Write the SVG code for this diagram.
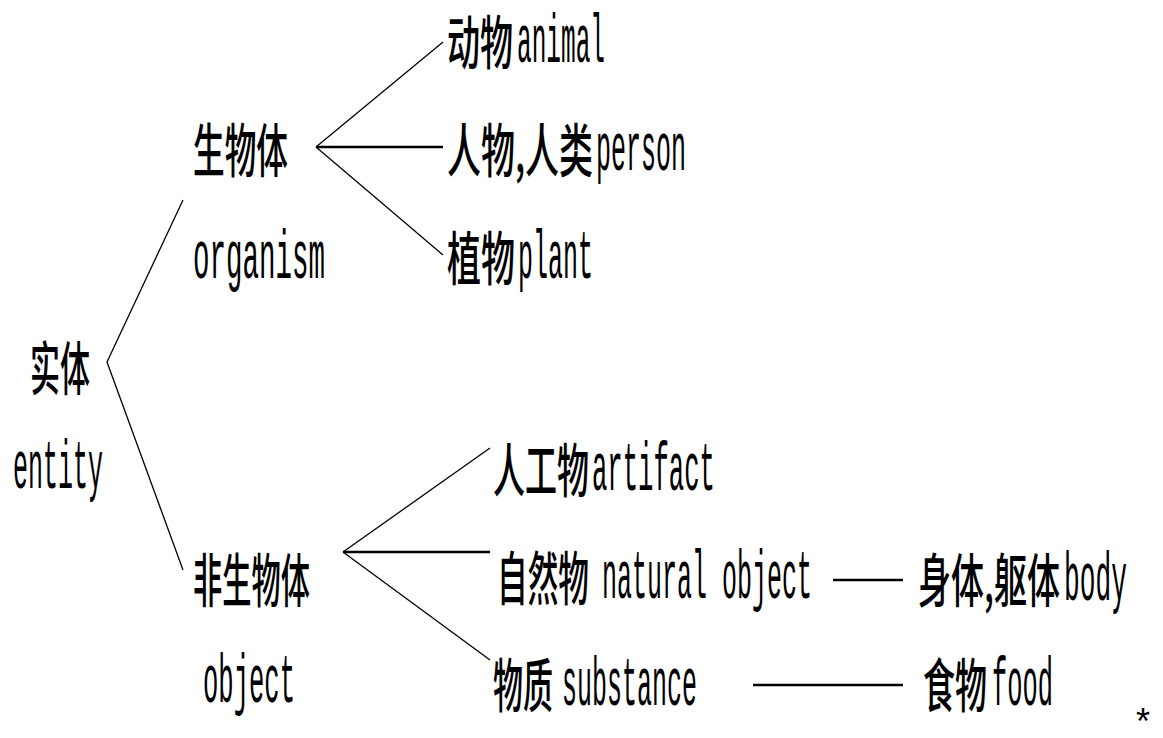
<svg xmlns="http://www.w3.org/2000/svg" width="1163" height="738" viewBox="0 0 1163 738">
<style>
.c{font-family:"Noto Sans CJK SC","Liberation Mono",sans-serif;font-size:58px;font-weight:500;fill:#000;}
.l{font-family:"Liberation Mono","Noto Sans CJK SC",monospace;font-size:68px;fill:#000;}
.thin{stroke:#000;stroke-width:1.3;fill:none;}
.thick{stroke:#000;stroke-width:2.5;fill:none;}
</style>
<rect width="1163" height="738" fill="#fff"/>
<g id="connectors">
<polyline class="thin" points="183,200 107,362 183,570"/>
<line class="thin" x1="316" y1="147" x2="443" y2="42"/>
<line class="thick" x1="316" y1="147" x2="443" y2="147"/>
<line class="thin" x1="316" y1="147" x2="443" y2="255"/>
<line class="thin" x1="343" y1="552" x2="490" y2="448"/>
<line class="thick" x1="343" y1="552" x2="490" y2="552"/>
<line class="thin" x1="343" y1="552" x2="490" y2="660"/>
<line class="thick" x1="833" y1="580" x2="903" y2="580"/>
<line class="thick" x1="753" y1="685" x2="903" y2="685"/>
</g>
<g id="n-entity">
<text class="c" x="30" y="390" textLength="60" lengthAdjust="spacingAndGlyphs">实体</text>
<text class="l" x="13" y="488" textLength="90" lengthAdjust="spacingAndGlyphs">entity</text>
</g>
<g id="n-organism">
<text class="c" x="193" y="172" textLength="95" lengthAdjust="spacingAndGlyphs">生物体</text>
<text class="l" x="193" y="278" textLength="132" lengthAdjust="spacingAndGlyphs">organism</text>
</g>
<g id="n-object">
<text class="c" x="193" y="602" textLength="117" lengthAdjust="spacingAndGlyphs">非生物体</text>
<text class="l" x="203" y="702" textLength="92" lengthAdjust="spacingAndGlyphs">object</text>
</g>
<g id="n-animal">
<text class="c" x="447" y="64" textLength="66" lengthAdjust="spacingAndGlyphs">动物</text>
<text class="l" x="517" y="62" textLength="88" lengthAdjust="spacingAndGlyphs">animal</text>
</g>
<g id="n-person">
<text class="c" x="447" y="172" textLength="146" lengthAdjust="spacingAndGlyphs">人物,人类</text>
<text class="l" x="596" y="170" textLength="90" lengthAdjust="spacingAndGlyphs">person</text>
</g>
<g id="n-plant">
<text class="c" x="447" y="280" textLength="68" lengthAdjust="spacingAndGlyphs">植物</text>
<text class="l" x="518" y="278" textLength="75" lengthAdjust="spacingAndGlyphs">plant</text>
</g>
<g id="n-artifact">
<text class="c" x="493" y="492" textLength="96" lengthAdjust="spacingAndGlyphs">人工物</text>
<text class="l" x="592" y="490" textLength="123" lengthAdjust="spacingAndGlyphs">artifact</text>
</g>
<g id="n-natural">
<text class="c" x="497" y="600" textLength="92" lengthAdjust="spacingAndGlyphs">自然物</text>
<text class="l" x="602" y="598" textLength="210" lengthAdjust="spacingAndGlyphs">natural object</text>
</g>
<g id="n-substance">
<text class="c" x="493" y="707" textLength="60" lengthAdjust="spacingAndGlyphs">物质</text>
<text class="l" x="562" y="705" textLength="135" lengthAdjust="spacingAndGlyphs">substance</text>
</g>
<g id="n-body">
<text class="c" x="918" y="602" textLength="142" lengthAdjust="spacingAndGlyphs">身体,躯体</text>
<text class="l" x="1064" y="600" textLength="63" lengthAdjust="spacingAndGlyphs">body</text>
</g>
<g id="n-food">
<text class="c" x="923" y="707" textLength="64" lengthAdjust="spacingAndGlyphs">食物</text>
<text class="l" x="992" y="705" textLength="61" lengthAdjust="spacingAndGlyphs">food</text>
</g>
<text x="1136" y="734" font-family="Liberation Sans, sans-serif" font-size="36">*</text>
</svg>
